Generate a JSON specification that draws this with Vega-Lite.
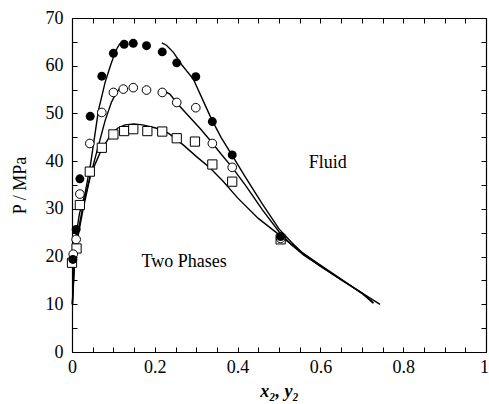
{
  "$schema": "https://vega.github.io/schema/vega-lite/v6.json",
  "width": 414,
  "height": 334,
  "autosize": "none",
  "padding": {"left": 72, "top": 18, "right": 3, "bottom": 52},
  "background": "white",
  "config": {
    "view": {"stroke": null},
    "font": "Liberation Serif",
    "axis": {
      "grid": false,
      "domainColor": "black",
      "domainWidth": 1.2,
      "tickColor": "black",
      "tickWidth": 1,
      "tickSize": -5,
      "labelColor": "black",
      "titleColor": "black",
      "labelFont": "Liberation Serif",
      "titleFont": "Liberation Serif",
      "labelFontSize": 18,
      "titleFontSize": 18,
      "titleFontWeight": "normal"
    }
  },
  "datasets": {
    "points": [
      {"x": 0.002, "y": 19.4, "series": "filled"},
      {"x": 0.010, "y": 25.7, "series": "filled"},
      {"x": 0.019, "y": 36.3, "series": "filled"},
      {"x": 0.044, "y": 49.4, "series": "filled"},
      {"x": 0.072, "y": 57.8, "series": "filled"},
      {"x": 0.100, "y": 62.6, "series": "filled"},
      {"x": 0.126, "y": 64.5, "series": "filled"},
      {"x": 0.148, "y": 64.7, "series": "filled"},
      {"x": 0.180, "y": 64.2, "series": "filled"},
      {"x": 0.218, "y": 62.9, "series": "filled"},
      {"x": 0.253, "y": 60.6, "series": "filled"},
      {"x": 0.299, "y": 57.7, "series": "filled"},
      {"x": 0.339, "y": 48.3, "series": "filled"},
      {"x": 0.387, "y": 41.3, "series": "filled"},
      {"x": 0.504, "y": 24.2, "series": "filled"},
      {"x": 0.003, "y": 20.5, "series": "open"},
      {"x": 0.010, "y": 23.6, "series": "open"},
      {"x": 0.019, "y": 33.1, "series": "open"},
      {"x": 0.043, "y": 43.7, "series": "open"},
      {"x": 0.072, "y": 50.2, "series": "open"},
      {"x": 0.100, "y": 54.4, "series": "open"},
      {"x": 0.124, "y": 55.1, "series": "open"},
      {"x": 0.148, "y": 55.4, "series": "open"},
      {"x": 0.180, "y": 54.9, "series": "open"},
      {"x": 0.218, "y": 54.4, "series": "open"},
      {"x": 0.253, "y": 52.3, "series": "open"},
      {"x": 0.299, "y": 51.2, "series": "open"},
      {"x": 0.339, "y": 43.7, "series": "open"},
      {"x": 0.387, "y": 38.7, "series": "open"},
      {"x": 0.504, "y": 23.8, "series": "open"},
      {"x": 0.000, "y": 18.7, "series": "square"},
      {"x": 0.011, "y": 21.7, "series": "square"},
      {"x": 0.019, "y": 30.8, "series": "square"},
      {"x": 0.043, "y": 37.8, "series": "square"},
      {"x": 0.072, "y": 42.8, "series": "square"},
      {"x": 0.100, "y": 45.6, "series": "square"},
      {"x": 0.126, "y": 46.3, "series": "square"},
      {"x": 0.148, "y": 46.7, "series": "square"},
      {"x": 0.182, "y": 46.3, "series": "square"},
      {"x": 0.218, "y": 46.2, "series": "square"},
      {"x": 0.253, "y": 44.8, "series": "square"},
      {"x": 0.297, "y": 44.1, "series": "square"},
      {"x": 0.339, "y": 39.3, "series": "square"},
      {"x": 0.387, "y": 35.7, "series": "square"},
      {"x": 0.504, "y": 23.6, "series": "square"}
    ],
    "curves": [
      {"x": 0.001, "y": 10, "branch": "A1"},
      {"x": 0.004, "y": 18, "branch": "A1"},
      {"x": 0.009, "y": 24, "branch": "A1"},
      {"x": 0.018, "y": 29, "branch": "A1"},
      {"x": 0.031, "y": 33, "branch": "A1"},
      {"x": 0.045, "y": 39.5, "branch": "A1"},
      {"x": 0.064, "y": 50.7, "branch": "A1"},
      {"x": 0.080, "y": 56.5, "branch": "A1"},
      {"x": 0.092, "y": 59.8, "branch": "A1"},
      {"x": 0.100, "y": 61.8, "branch": "A1"},
      {"x": 0.108, "y": 63.5, "branch": "A1"},
      {"x": 0.116, "y": 64.7, "branch": "A1"},
      {"x": 0.217, "y": 64.8, "branch": "A2"},
      {"x": 0.228, "y": 64.3, "branch": "A2"},
      {"x": 0.245, "y": 62.8, "branch": "A2"},
      {"x": 0.265, "y": 60.2, "branch": "A2"},
      {"x": 0.293, "y": 57.2, "branch": "A2"},
      {"x": 0.315, "y": 53, "branch": "A2"},
      {"x": 0.337, "y": 48.8, "branch": "A2"},
      {"x": 0.360, "y": 45, "branch": "A2"},
      {"x": 0.386, "y": 41.3, "branch": "A2"},
      {"x": 0.420, "y": 36.5, "branch": "A2"},
      {"x": 0.460, "y": 31, "branch": "A2"},
      {"x": 0.500, "y": 25.8, "branch": "A2"},
      {"x": 0.530, "y": 23, "branch": "A2"},
      {"x": 0.560, "y": 20.5, "branch": "A2"},
      {"x": 0.600, "y": 18, "branch": "A2"},
      {"x": 0.650, "y": 15.1, "branch": "A2"},
      {"x": 0.700, "y": 12.4, "branch": "A2"},
      {"x": 0.744, "y": 10, "branch": "A2"},
      {"x": 0.001, "y": 10, "branch": "B1"},
      {"x": 0.005, "y": 18, "branch": "B1"},
      {"x": 0.012, "y": 24, "branch": "B1"},
      {"x": 0.025, "y": 30, "branch": "B1"},
      {"x": 0.040, "y": 35.5, "branch": "B1"},
      {"x": 0.060, "y": 42, "branch": "B1"},
      {"x": 0.080, "y": 48.5, "branch": "B1"},
      {"x": 0.095, "y": 52.3, "branch": "B1"},
      {"x": 0.106, "y": 54.2, "branch": "B1"},
      {"x": 0.116, "y": 55.3, "branch": "B1"},
      {"x": 0.218, "y": 55, "branch": "B2"},
      {"x": 0.237, "y": 54, "branch": "B2"},
      {"x": 0.253, "y": 52.2, "branch": "B2"},
      {"x": 0.280, "y": 49.6, "branch": "B2"},
      {"x": 0.310, "y": 46.8, "branch": "B2"},
      {"x": 0.337, "y": 44, "branch": "B2"},
      {"x": 0.360, "y": 41.5, "branch": "B2"},
      {"x": 0.386, "y": 38.8, "branch": "B2"},
      {"x": 0.420, "y": 34.8, "branch": "B2"},
      {"x": 0.460, "y": 29.8, "branch": "B2"},
      {"x": 0.500, "y": 25.2, "branch": "B2"},
      {"x": 0.530, "y": 22.5, "branch": "B2"},
      {"x": 0.560, "y": 20.3, "branch": "B2"},
      {"x": 0.600, "y": 18, "branch": "B2"},
      {"x": 0.650, "y": 15.2, "branch": "B2"},
      {"x": 0.700, "y": 12.4, "branch": "B2"},
      {"x": 0.728, "y": 10.3, "branch": "B2"},
      {"x": 0.001, "y": 10, "branch": "C"},
      {"x": 0.006, "y": 18, "branch": "C"},
      {"x": 0.014, "y": 24, "branch": "C"},
      {"x": 0.027, "y": 30, "branch": "C"},
      {"x": 0.045, "y": 37.2, "branch": "C"},
      {"x": 0.070, "y": 42.2, "branch": "C"},
      {"x": 0.092, "y": 45.3, "branch": "C"},
      {"x": 0.110, "y": 46.9, "branch": "C"},
      {"x": 0.128, "y": 47.6, "branch": "C"},
      {"x": 0.150, "y": 47.8, "branch": "C"},
      {"x": 0.170, "y": 47.6, "branch": "C"},
      {"x": 0.200, "y": 47, "branch": "C"},
      {"x": 0.220, "y": 46.5, "branch": "C"},
      {"x": 0.237, "y": 45.6, "branch": "C"},
      {"x": 0.270, "y": 43.3, "branch": "C"},
      {"x": 0.300, "y": 41, "branch": "C"},
      {"x": 0.333, "y": 38.6, "branch": "C"},
      {"x": 0.365, "y": 35.8, "branch": "C"},
      {"x": 0.400, "y": 32.3, "branch": "C"},
      {"x": 0.450, "y": 28, "branch": "C"},
      {"x": 0.500, "y": 24.6, "branch": "C"},
      {"x": 0.550, "y": 21.2, "branch": "C"},
      {"x": 0.600, "y": 18.2, "branch": "C"},
      {"x": 0.650, "y": 15.3, "branch": "C"},
      {"x": 0.700, "y": 12.3, "branch": "C"},
      {"x": 0.728, "y": 10.2, "branch": "C"}
    ],
    "labels": [
      {"x": 0.618, "y": 39.6, "text": "Fluid"},
      {"x": 0.271, "y": 18.9, "text": "Two Phases"}
    ]
  },
  "layer": [
    {
      "data": {"name": "curves"},
      "mark": {"type": "line", "color": "black", "strokeWidth": 1.4},
      "encoding": {
        "x": {
          "field": "x", "type": "quantitative",
          "scale": {"domain": [0, 1], "nice": false},
          "axis": {
            "orient": "bottom",
            "values": [0, 0.05, 0.1, 0.15, 0.2, 0.25, 0.3, 0.35, 0.4, 0.45, 0.5, 0.55, 0.6, 0.65, 0.7, 0.75, 0.8, 0.85, 0.9, 0.95, 1],
            "labelExpr": "abs(datum.value * 5 - round(datum.value * 5)) < 0.001 ? format(datum.value, '~g') : ''",
            "labelPadding": 11,
            "labelFlush": false,
            "labelOverlap": false,
            "labelOffset": {"condition": {"test": "datum.value == 1", "value": -2}, "value": 0},
            "title": "x₂, y₂",
            "titleFontStyle": "italic",
            "titleFontWeight": "bold",
            "titlePadding": 6
          }
        },
        "y": {
          "field": "y", "type": "quantitative",
          "scale": {"domain": [0, 70], "nice": false},
          "axis": {
            "orient": "left",
            "values": [0, 5, 10, 15, 20, 25, 30, 35, 40, 45, 50, 55, 60, 65, 70],
            "labelExpr": "datum.value % 10 == 0 ? format(datum.value, 'd') : ''",
            "labelPadding": 14,
            "labelFlush": false,
            "labelOverlap": false,
            "title": "P / MPa",
            "titlePadding": 16
          }
        },
        "detail": {"field": "branch"}
      }
    },
    {
      "data": {"name": "points"},
      "transform": [{"filter": "datum.series == 'square'"}],
      "mark": {"type": "point", "shape": "square", "filled": false, "fill": "white", "stroke": "black", "strokeWidth": 1, "size": 85, "opacity": 1},
      "encoding": {
        "x": {"field": "x", "type": "quantitative", "axis": null},
        "y": {"field": "y", "type": "quantitative", "axis": null}
      }
    },
    {
      "data": {"name": "points"},
      "transform": [{"filter": "datum.series == 'open'"}],
      "mark": {"type": "point", "shape": "circle", "filled": false, "fill": "white", "stroke": "black", "strokeWidth": 1, "size": 75, "opacity": 1},
      "encoding": {
        "x": {"field": "x", "type": "quantitative", "axis": null},
        "y": {"field": "y", "type": "quantitative", "axis": null}
      }
    },
    {
      "data": {"name": "points"},
      "transform": [{"filter": "datum.series == 'filled'"}],
      "mark": {"type": "point", "shape": "circle", "filled": true, "color": "black", "size": 80, "opacity": 1},
      "encoding": {
        "x": {"field": "x", "type": "quantitative", "axis": null},
        "y": {"field": "y", "type": "quantitative", "axis": null}
      }
    },
    {
      "data": {"name": "labels"},
      "mark": {"type": "text", "font": "Liberation Serif", "fontSize": 18, "color": "black", "align": "center", "baseline": "middle"},
      "encoding": {
        "x": {"field": "x", "type": "quantitative", "axis": null},
        "y": {"field": "y", "type": "quantitative", "axis": null},
        "text": {"field": "text"}
      }
    },
    {
      "data": {"name": "curves"},
      "mark": {"type": "point", "opacity": 0},
      "encoding": {
        "x": {
          "field": "x", "type": "quantitative",
          "axis": {
            "orient": "top",
            "values": [0, 0.05, 0.1, 0.15, 0.2, 0.25, 0.3, 0.35, 0.4, 0.45, 0.5, 0.55, 0.6, 0.65, 0.7, 0.75, 0.8, 0.85, 0.9, 0.95, 1],
            "labels": false,
            "title": null
          }
        },
        "y": {
          "field": "y", "type": "quantitative",
          "axis": {
            "orient": "right",
            "values": [0, 5, 10, 15, 20, 25, 30, 35, 40, 45, 50, 55, 60, 65, 70],
            "labels": false,
            "title": null
          }
        }
      }
    }
  ],
  "resolve": {"axis": {"x": "independent", "y": "independent"}}
}
